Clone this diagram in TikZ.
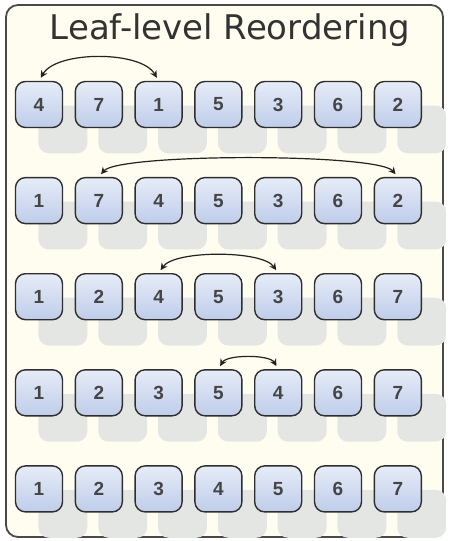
\documentclass[tikz,border=0pt]{standalone}
\usepackage{fontspec}
\setmainfont{DejaVu Sans}
\newfontfamily\digitfont{Liberation Sans}
\usetikzlibrary{arrows.meta,shadows}
\definecolor{cream}{HTML}{FFFDF0}
\definecolor{framegray}{HTML}{4A4A4A}
\definecolor{shadowgray}{HTML}{E4E6E3}
\definecolor{boxtop}{HTML}{E6ECF8}
\definecolor{boxbottom}{HTML}{BFCDEA}
\definecolor{boxline}{HTML}{2E2E2E}
\definecolor{digitgray}{HTML}{454545}
\definecolor{titlegray}{HTML}{333333}
\definecolor{arcgray}{HTML}{222222}
\tikzset{
  frameline/.style={draw=framegray, line width=1.8pt, fill=cream, rounded corners=12pt},
  titletext/.style={text=titlegray, font=\fontsize{34}{34}\selectfont, inner sep=0pt},
  leafbox/.style={draw=boxline, line width=1.4pt, rounded corners=10pt,
    minimum width=47pt, minimum height=46pt, inner sep=0pt,
    top color=boxtop, bottom color=boxbottom,
    text=digitgray, font=\digitfont\bfseries\fontsize{19}{19}\selectfont,
    general shadow={fill=shadowgray, shadow xshift=23pt, shadow yshift=-24pt, shadow scale=1.04}},
  swaparc/.style={draw=arcgray, line width=1.2pt,
    {Stealth[length=7pt,width=7pt]}-{Stealth[length=7pt,width=7pt]},
    shorten <=3.5pt, shorten >=3.5pt}
}
\begin{document}
\begin{tikzpicture}[x=1pt,y=1pt]
\useasboundingbox (0,0) rectangle (448,-541);
\draw[frameline] (6,-5) rectangle (443,-537);
\node[titletext, anchor=base] (title) at (230,-39) {Leaf-level Reordering};
\foreach \r/\vals in {1/{4,7,1,5,3,6,2}, 2/{1,7,4,5,3,6,2}, 3/{1,2,4,5,3,6,7}, 4/{1,2,3,5,4,6,7}, 5/{1,2,3,4,5,6,7}} {
  \foreach \v [count=\c] in \vals {
    \node[leafbox] (b\r-\c) at ({39+59.8*(\c-1)}, {-104.5-96.1*(\r-1)}) {\v};
  }
}
\draw[swaparc] (b1-1.north) to[out=60, in=120, distance=35pt] (b1-3.north);
\draw[swaparc] (b2-2.north) to[out=50, in=130, distance=31pt] (b2-7.north);
\draw[swaparc] (b3-3.north) to[out=55, in=125, distance=28pt] (b3-5.north);
\draw[swaparc] (b4-4.north) to[out=60, in=120, distance=17pt] (b4-5.north);
\end{tikzpicture}
\end{document}
